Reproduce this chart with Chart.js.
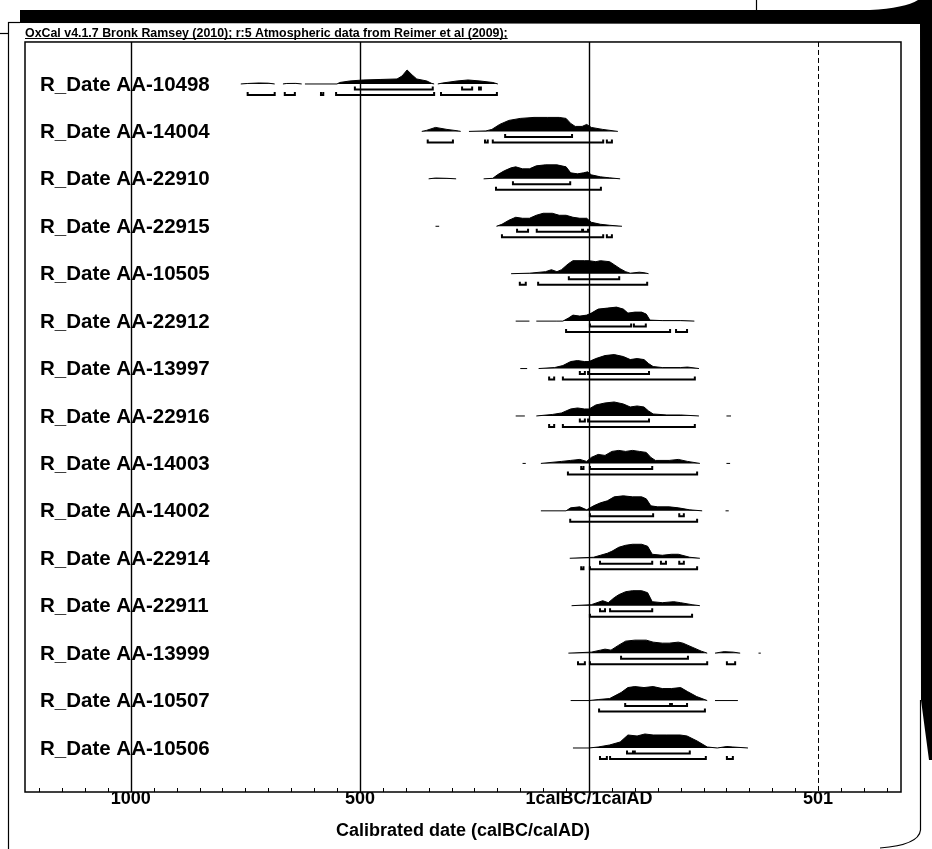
<!DOCTYPE html>
<html>
<head>
<meta charset="utf-8">
<script src="https://cdn.jsdelivr.net/npm/chart.js@4.4.0/dist/chart.umd.min.js"></script>
<style>
  html, body { margin: 0; padding: 0; background: #fff; }
</style>
</head>
<body>
<canvas id="oxcal" width="932" height="849"></canvas>
<script>
// row labels, top to bottom
const rowLabels = [
    'R_Date AA-10498', 'R_Date AA-14004', 'R_Date AA-22910', 'R_Date AA-22915',
    'R_Date AA-10505', 'R_Date AA-22912', 'R_Date AA-13997', 'R_Date AA-22916',
    'R_Date AA-14003', 'R_Date AA-14002', 'R_Date AA-22914', 'R_Date AA-22911',
    'R_Date AA-13999', 'R_Date AA-10507', 'R_Date AA-10506'
];

// x axis (years, BC negative)
const tickYears = [-1000, -500, 0, 500];
const tickLabels = ['1000', '500', '1calBC/1calAD', '501'];

// probability profiles: [year, relative height], null = break
const d10498 = [[-760,0],[-745,0.5],[-720,1],[-700,0.8],[-686,0],null,[-668,0],[-660,0.5],[-640,0.6],[-627,0],null,
    [-620,0],[-550,0],[-544,1.5],[-522,3],[-493,4],[-456,4.5],[-419,5],[-408,8],[-397,14],[-386,9],[-376,5],[-354,3],[-343,0.5],[-338,0],null,
    [-330,0],[-319,1],[-288,3],[-264,4],[-238,3],[-210,1.5],[-199,0]];
const d14004 = [[-365,0],[-355,1],[-335,4],[-310,2],[-285,0.5],[-280,0],null,
    [-262,0],[-225,0.5],[-212,2],[-195,7],[-175,11],[-150,13],[-120,14],[-90,14],[-65,14],[-50,13],[-40,8],[-30,5],[-15,5],[-5,7],[5,4],[30,2],[63,0]];
const d22910 = [[-350,0],[-335,0.8],[-310,0.5],[-290,0],null,
    [-230,0],[-210,0.5],[-200,4],[-185,8],[-170,11],[-160,12],[-145,10],[-130,10],[-115,13],[-95,14],[-70,14],[-50,12],[-40,6],[-25,5],[-12,6],[-3,7],[5,4],[25,2],[45,1],[68,0]];
const d22915 = [[-335,0],[-327,0],null,
    [-202,0],[-190,2],[-175,6],[-160,9],[-145,8],[-130,8],[-115,11],[-100,13],[-80,13],[-65,11],[-50,11],[-35,9],[-20,8],[-5,8],[5,4],[25,2],[45,1],[72,0]];
const d10505 = [[-170,0],[-130,0.5],[-95,2],[-82,4],[-70,2],[-60,4],[-45,10],[-35,13],[-10,13],[0,13],[15,12],[25,13],[45,12],[55,9],[68,5],[80,2],[90,0.5],[110,1.5],[120,1],[130,0]];
const d22912 = [[-160,0],[-130,0],null,[-115,0],[-70,0],
    [-57,0],[-45,3],[-35,6],[-20,5],[-5,6],[5,8],[20,12],[40,13],[60,14],[75,12],[85,8],[100,9],[115,9],[125,7],[133,1],[160,0.5],[200,0.5],[230,0]];
const d13997 = [[-150,0],[-135,0],null,
    [-110,0],[-75,1],[-57,3],[-40,7],[-25,8],[-10,7],[0,7],[15,10],[35,13],[55,14],[75,12],[90,9],[105,10],[120,9],[130,5],[140,2],[160,1],[200,1],[215,1.5],[240,0]];
const d22916 = [[-160,0],[-140,0],null,
    [-115,0],[-80,1.5],[-60,3],[-40,7],[-25,8],[-10,7],[0,7],[15,11],[35,13],[55,14],[75,12],[90,9],[105,10],[120,9],[130,5],[140,2],[170,1],[200,1],[240,0],null,[300,0],[310,0]];
const d14003 = [[-145,0],[-138,0],null,
    [-105,0],[-60,2],[-40,3],[-20,4],[-5,2],[5,6],[20,9],[35,8],[50,12],[65,13],[80,12],[95,13],[110,12],[125,11],[135,6],[145,3],[175,3],[195,4],[215,2],[242,0],null,[300,0],[308,0]];
const d14002 = [[-105,0],[-50,0],[-40,3],[-20,4],[-5,1],[10,5],[25,8],[40,10],[55,14],[75,15],[95,14],[115,14],[125,12],[135,5],[150,4],[175,4],[195,3],[220,1],[247,0],null,[298,0],[305,0]];
const d22914 = [[-42,0],[10,1],[25,3],[40,5],[50,7],[65,11],[80,13],[95,14],[115,14],[128,12],[138,4],[160,3],[180,4],[195,4],[220,1],[242,0]];
const d22911 = [[-38,0],[5,1],[30,5],[42,3],[55,8],[65,11],[80,14],[95,15],[115,15],[128,13],[138,4],[160,3],[185,4],[200,3],[225,1],[242,0]];
const d13999 = [[-45,0],[5,1],[25,3],[35,4],[48,3],[65,8],[80,12],[100,13],[125,13],[140,11],[160,10],[175,10],[195,11],[205,10],[225,6],[245,2],[258,0],null,
    [275,0],[295,1.5],[315,1],[330,0],null,[370,0],[375,0]];
const d10507 = [[-40,0],[0,0],[20,1],[45,2],[70,8],[85,13],[100,14],[120,13],[140,14],[160,12],[180,12],[200,13],[215,9],[235,4],[258,0],null,[275,0],[325,0]];
const d10506 = [[-35,0],[0,0],[20,1],[45,3],[68,6],[85,13],[105,12],[122,14],[140,13],[170,13],[199,13],[214,12],[236,7],[258,1],[280,0],[301,1.5],[314,1],[347,0]];
const profiles = [d10498, d14004, d22910, d22915, d10505, d22912, d13997, d22916,
    d14003, d14002, d22914, d22911, d13999, d10507, d10506];

// 68.2% and 95.4% ranges, [from, to]
const ranges68 = [
    [[-511,-341],[-277,-255],[-240,-236]],
    [[-183,-37]],
    [[-166,-41]],
    [[-157,-133],[-114,-15],[-13,-2]],
    [[-44,66]],
    [[2,92],[98,124]],
    [[-20,-9],[-2,131]],
    [[-20,-9],[-2,131]],
    [[-17,-12],[2,138]],
    [[2,140],[197,207]],
    [[24,138],[157,168],[197,207]],
    [[24,35],[46,138]],
    [[70,216]],
    [[79,177],[181,214]],
    [[83,96],[100,220]]
];
const ranges95 = [
    [[-745,-686],[-664,-642],[-585,-580],[-552,-338],[-323,-201]],
    [[-352,-297],[-227,-221],[-210,31],[39,50]],
    [[-203,26]],
    [[-190,31],[39,50]],
    [[-151,-138],[-111,127]],
    [[-50,177],[190,214]],
    [[-87,-76],[-57,231]],
    [[-87,-76],[-57,231]],
    [[-46,236]],
    [[-41,236]],
    [[-17,-12],[2,236]],
    [[2,225]],
    [[-24,-9],[2,258],[301,319]],
    [[22,253]],
    [[24,39],[46,255],[301,314]]
];

const PX = 1 / 47.43; // one unit of profile height in row units

function profilePoints(pts, row) {
    return pts.map((p, i) => p === null
        ? { x: pts[i - 1][0], y: null }
        : { x: p[0], y: row - p[1] * PX });
}

function bracketPoints(segs, row, off) {
    const y = row + off * PX, t = 3 * PX;
    const out = [];
    segs.forEach(([a, b]) => {
        out.push({ x: a, y: y - t }, { x: a, y: y }, { x: b, y: y }, { x: b, y: y - t }, { x: b, y: null });
    });
    return out;
}

const datasets = [];
profiles.forEach((pts, row) => {
    datasets.push({
        data: profilePoints(pts, row),
        borderColor: '#000', backgroundColor: '#000', borderWidth: 1,
        fill: { value: row }, pointRadius: 0, tension: 0
    });
    datasets.push({
        data: bracketPoints(ranges68[row], row, 5.5),
        borderColor: '#000', borderWidth: 2, fill: false, pointRadius: 0, tension: 0
    });
    datasets.push({
        data: bracketPoints(ranges95[row], row, 11),
        borderColor: '#000', borderWidth: 2, fill: false, pointRadius: 0, tension: 0
    });
});

const FONT = '"Liberation Sans", Arial, sans-serif';

const oxcalDecor = {
    id: 'oxcalDecor',
    beforeDraw(chart) {
        const ctx = chart.ctx;
        ctx.save();
        ctx.fillStyle = '#fff';
        ctx.fillRect(0, 0, chart.width, chart.height);
        ctx.restore();
    },
    beforeDatasetsDraw(chart) {
        const ctx = chart.ctx, a = chart.chartArea, xs = chart.scales.x;
        ctx.save();
        ctx.strokeStyle = '#000';
        // minor ticks every 50 years
        ctx.lineWidth = 1;
        for (let v = Math.ceil(xs.min / 50) * 50; v <= xs.max; v += 50) {
            if (tickYears.includes(v)) continue;
            const px = Math.round(xs.getPixelForValue(v)) + 0.5;
            ctx.beginPath(); ctx.moveTo(px, a.bottom); ctx.lineTo(px, a.bottom - 4); ctx.stroke();
        }
        // major grid lines
        tickYears.forEach(v => {
            const px = Math.round(xs.getPixelForValue(v)) + 0.5;
            ctx.lineWidth = v === 500 ? 1 : 1.4;
            ctx.setLineDash(v === 500 ? [5, 3] : []);
            ctx.beginPath(); ctx.moveTo(px, a.top); ctx.lineTo(px, a.bottom); ctx.stroke();
        });
        ctx.restore();
    },
    afterDatasetsDraw(chart) {
        const ctx = chart.ctx, a = chart.chartArea, ys = chart.scales.y;
        ctx.save();
        ctx.fillStyle = '#000';
        ctx.font = 'bold 20.5px ' + FONT;
        ctx.textBaseline = 'middle';
        rowLabels.forEach((t, i) => ctx.fillText(t, a.left + 15, ys.getPixelForValue(i) + 1));
        // plot frame
        ctx.strokeStyle = '#000';
        ctx.lineWidth = 1.5;
        ctx.strokeRect(a.left, a.top, a.right - a.left, a.bottom - a.top);
        ctx.restore();
    },
    afterDraw(chart) {
        const ctx = chart.ctx, tb = chart.titleBlock;
        ctx.save();
        // title underline
        ctx.font = 'bold 12.4px ' + FONT;
        const w = ctx.measureText(chart.options.plugins.title.text).width;
        ctx.strokeStyle = '#000'; ctx.lineWidth = 1;
        ctx.beginPath(); ctx.moveTo(tb.left, 38.5); ctx.lineTo(tb.left + w, 38.5); ctx.stroke();
        // scanned page edges
        ctx.fillStyle = '#000';
        ctx.beginPath();
        ctx.moveTo(20, 10); ctx.lineTo(870, 10);
        ctx.quadraticCurveTo(905, 8, 918, 0);
        ctx.lineTo(932, 0); ctx.lineTo(932, 760);
        ctx.lineTo(929, 760); ctx.lineTo(921, 700); ctx.lineTo(920, 24);
        ctx.lineTo(20, 23);
        ctx.closePath(); ctx.fill();
        ctx.lineWidth = 1.2;
        ctx.beginPath(); ctx.moveTo(8.5, 22); ctx.lineTo(8.5, 849); ctx.stroke();
        ctx.beginPath(); ctx.moveTo(8, 22.5); ctx.lineTo(20, 22.5); ctx.stroke();
        ctx.beginPath(); ctx.moveTo(0, 33.5); ctx.lineTo(8, 33.5); ctx.stroke();
        ctx.beginPath(); ctx.moveTo(756.5, 0); ctx.lineTo(756.5, 10); ctx.stroke();
        ctx.beginPath(); ctx.moveTo(920.5, 700); ctx.lineTo(920.5, 830);
        ctx.quadraticCurveTo(919, 845, 880, 848); ctx.stroke();
        ctx.restore();
    }
};

new Chart(document.getElementById('oxcal'), {
    type: 'line',
    data: { datasets: datasets },
    plugins: [oxcalDecor],
    options: {
        responsive: false,
        devicePixelRatio: 1,
        animation: false,
        spanGaps: false,
        layout: { padding: { left: 25, right: 31, top: 0, bottom: 0 } },
        plugins: {
            legend: { display: false },
            tooltip: { enabled: false },
            title: {
                display: true,
                text: 'OxCal v4.1.7 Bronk Ramsey (2010); r:5 Atmospheric data from Reimer et al (2009);',
                align: 'start',
                color: '#000',
                font: { family: FONT, size: 12.4, weight: 'bold' },
                padding: { top: 26, bottom: 1.1 }
            }
        },
        scales: {
            x: {
                type: 'linear',
                min: -1231,
                max: 681,
                grid: { display: false },
                border: { display: false },
                afterBuildTicks: s => { s.ticks = tickYears.map(v => ({ value: v })); },
                afterFit: s => { s.height = 57; },
                ticks: {
                    autoSkip: false,
                    maxRotation: 0,
                    padding: -12,
                    color: '#000',
                    font: { family: FONT, size: 18, weight: 'bold' },
                    callback: (v, i) => tickLabels[i]
                },
                title: {
                    display: true,
                    text: 'Calibrated date (calBC/calAD)',
                    color: '#000',
                    font: { family: FONT, size: 18, weight: 'bold' },
                    padding: { top: 0, bottom: 7 }
                }
            },
            y: {
                type: 'linear',
                display: false,
                reverse: true,
                min: -0.8855,
                max: 14.928
            }
        }
    }
});
</script>
</body>
</html>
